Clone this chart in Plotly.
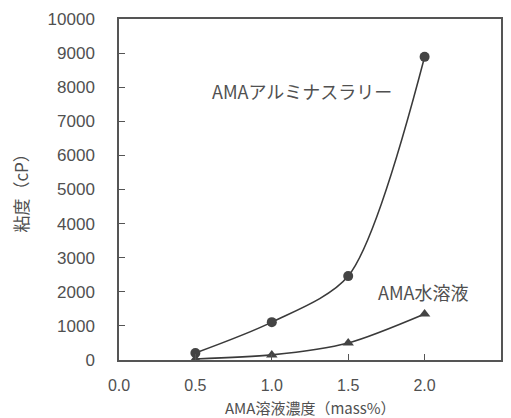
import plotly.graph_objects as go

conc = [0.5, 1.0, 1.5, 2.0]
slurry = [205, 1110, 2460, 8890]
solution = [30, 150, 500, 1350]
xticks = [0.0, 0.5, 1.0, 1.5, 2.0, 2.5]
xticklabels = ["0.0", "0.5", "1.0", "1.5", "2.0", "2.5"]
yticks = list(range(0, 10001, 1000))
yticklabels = [str(v) for v in yticks]

FONT = "Liberation Sans, Noto Sans CJK JP, sans-serif"
JP = "Noto Sans CJK JP"
LC = "#3a3a3a"
TC = "#505050"

fig = go.Figure()
fig.add_trace(go.Scatter(x=conc, y=slurry, mode="lines+markers",
                         line=dict(color=LC, width=1.6, shape="spline", smoothing=0.8),
                         marker=dict(symbol="circle", size=10, color="#444444"),
                         showlegend=False))
fig.add_trace(go.Scatter(x=conc, y=solution, mode="lines+markers",
                         line=dict(color=LC, width=1.6, shape="spline", smoothing=0.8),
                         marker=dict(symbol="triangle-up", size=10, color="#444444"),
                         showlegend=False))

fig.add_annotation(x=1.2, y=7900, text="AMAアルミナスラリー", showarrow=False,
                   xanchor="center", yanchor="middle",
                   font=dict(size=18, color=TC, family=JP))
fig.add_annotation(x=1.99, y=1980, text="AMA水溶液", showarrow=False,
                   xanchor="center", yanchor="middle",
                   font=dict(size=18, color=TC, family=JP))
fig.add_annotation(xref="paper", yref="paper", x=0.5, y=-0.139, yanchor="middle",
                   text="AMA溶液濃度（mass%）", showarrow=False,
                   font=dict(size=15, color=TC, family=JP))
fig.add_annotation(xref="paper", yref="paper", x=-0.259, y=0.5, textangle=-90,
                   xanchor="center", yanchor="middle",
                   text="粘度（cP）", showarrow=False,
                   font=dict(size=17, color=TC, family=JP))

# page body has an 8px default margin, so the figure is sized to fit the 511x418 window
fig.update_layout(
    width=503, height=410,
    margin=dict(l=111, r=10, t=11, b=58, autoexpand=False),
    paper_bgcolor="white", plot_bgcolor="white",
    font=dict(family=FONT, size=17, color=TC),
    xaxis=dict(range=[0, 2.5], tickvals=xticks, ticktext=xticklabels,
               tickfont=dict(size=16),
               ticks="inside", ticklen=6, tickcolor="#555", automargin=False,
               showline=True, linecolor="#555", linewidth=1.5, mirror=True,
               showgrid=False, zeroline=False, ticklabelstandoff=10),
    yaxis=dict(range=[0, 10000], tickvals=yticks, ticktext=yticklabels,
               ticks="inside", ticklen=6, tickcolor="#555", automargin=False,
               showline=True, linecolor="#555", linewidth=1.5, mirror=True,
               showgrid=False, zeroline=False, ticklabelstandoff=19),
)

fig.write_html("out.html")
